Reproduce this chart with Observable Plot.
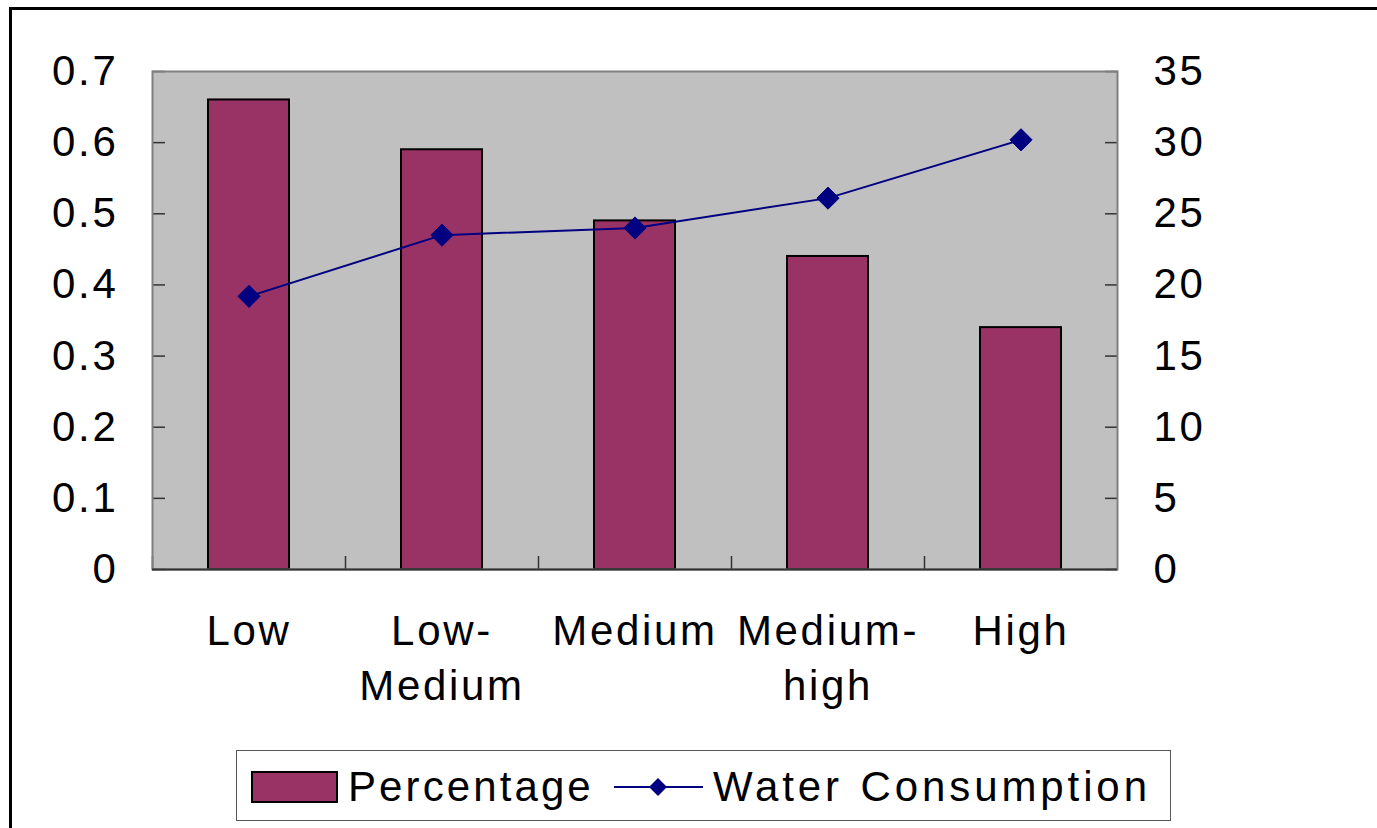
<!DOCTYPE html>
<html>
<head>
<meta charset="utf-8">
<script src="https://cdn.jsdelivr.net/npm/d3@7"></script>
<script src="https://cdn.jsdelivr.net/npm/@observablehq/plot@0.6"></script>
<style>
  html, body { margin: 0; padding: 0; background: #fff; }
  body { width: 1377px; height: 828px; position: relative; overflow: hidden;
         font-family: "Liberation Sans", Arial, sans-serif; }
  #frame { position: absolute; left: 9px; top: 7px; right: -10px; bottom: -10px;
           border-left: 3px solid #000; border-top: 3px solid #000; }
  #chart { position: absolute; left: 0; top: 0; }
  #chart svg text { letter-spacing: 2.7px; }
  #legend { position: absolute; left: 236px; top: 750px; width: 935px; height: 71px;
            border: 1px solid #555; box-sizing: border-box; background: #fff;
            font-size: 42px; letter-spacing: 3.1px; color: #000; }
  #legend .item { position: absolute; top: 0; height: 71px; display: flex; align-items: center; }
  #legend svg { display: block; }
</style>
</head>
<body>
<div id="frame"></div>
<div id="chart"></div>
<div id="legend">
  <div class="item" style="left:14px">
    <svg width="88" height="34"><rect x="1" y="2" width="85" height="30" fill="#993366" stroke="#000" stroke-width="2"/></svg>
    <span style="margin-left:9px">Percentage</span>
  </div>
  <div class="item" style="left:376px">
    <svg width="92" height="34"><line x1="1" y1="17" x2="90" y2="17" stroke="#000080" stroke-width="2"/><path d="M45,8 L54,17 L45,26 L36,17 Z" fill="#000080"/></svg>
    <span style="margin-left:8px; letter-spacing:3.9px; word-spacing:2px">Water Consumption</span>
  </div>
</div>
<script>
// Categories and series values
const categories = ["Low", "Low-Medium", "Medium", "Medium-high", "High"];
const categoryLabels = ["Low", "Low-\nMedium", "Medium", "Medium-\nhigh", "High"];
const percentage = [0.66, 0.59, 0.49, 0.44, 0.34];
const waterConsumption = [19.2, 23.5, 24.0, 26.1, 30.2];

// Axis tick values (left: percentage, right: water consumption)
const leftTicks = [0, 0.1, 0.2, 0.3, 0.4, 0.5, 0.6, 0.7];
const rightTicks = [0, 5, 10, 15, 20, 25, 30, 35];

// The right axis shares the left scale; water values are mapped onto it
const ratio = rightTicks[rightTicks.length - 1] / leftTicks[leftTicks.length - 1];

const rows = categories.map((c, i) => ({
  category: c,
  percentage: percentage[i],
  water: waterConsumption[i]
}));

const width = 1377, height = 740;
const marginLeft = 152, marginRight = 260, marginTop = 71, marginBottom = 171;
const step = (width - marginLeft - marginRight) / categories.length;

const chart = Plot.plot({
  width, height, marginLeft, marginRight, marginTop, marginBottom,
  style: { fontFamily: "'Liberation Sans', Arial, sans-serif", fontSize: "42px", color: "#000", background: "transparent", overflow: "visible" },
  x: { domain: categories, paddingInner: 0.58, paddingOuter: 0.29, axis: null },
  y: { domain: [leftTicks[0], leftTicks[leftTicks.length - 1]], axis: null },
  marks: [
    Plot.frame({ fill: "#c0c0c0" }),
    // category separators on the bottom axis
    Plot.axisX({ ticks: categories, tickSize: 13, dy: -13, dx: -step / 2, tickFormat: () => "", label: null, stroke: "#333", strokeWidth: 1.5 }),
    // left axis ticks (inward) and labels
    Plot.axisY({ anchor: "left", ticks: leftTicks, tickSize: 13, dx: 13, tickFormat: () => "", label: null, stroke: "#333", strokeWidth: 1.5 }),
    Plot.axisY({ anchor: "left", ticks: leftTicks, tickSize: 0, tickPadding: 34, label: null, tickFormat: d => String(+d.toFixed(1)) }),
    // right axis ticks (inward) and labels
    Plot.axisY({ anchor: "right", ticks: leftTicks, tickSize: 13, dx: -13, tickFormat: () => "", label: null, stroke: "#333", strokeWidth: 1.5 }),
    Plot.axisY({ anchor: "right", ticks: leftTicks, tickSize: 0, tickPadding: 36, label: null, tickFormat: (d, i) => String(rightTicks[i]) }),
    // category labels
    Plot.axisX({ ticks: categories, tickSize: 0, tickPadding: 37, lineHeight: 1.3, label: null, tickFormat: (d, i) => categoryLabels[i] }),
    Plot.barY(rows, { x: "category", y: "percentage", fill: "#993366", stroke: "#000", strokeWidth: 2 }),
    Plot.frame({ stroke: "#808080", strokeWidth: 2 }),
    Plot.ruleY([0], { stroke: "#333", strokeWidth: 2 }),
    Plot.line(rows, { x: "category", y: d => d.water / ratio, stroke: "#000080", strokeWidth: 2 }),
    Plot.dot(rows, { x: "category", y: d => d.water / ratio, symbol: "diamond2", r: 10, fill: "#000080", stroke: "#000080", strokeWidth: 1 })
  ]
});
document.getElementById("chart").appendChild(chart);
</script>
</body>
</html>
